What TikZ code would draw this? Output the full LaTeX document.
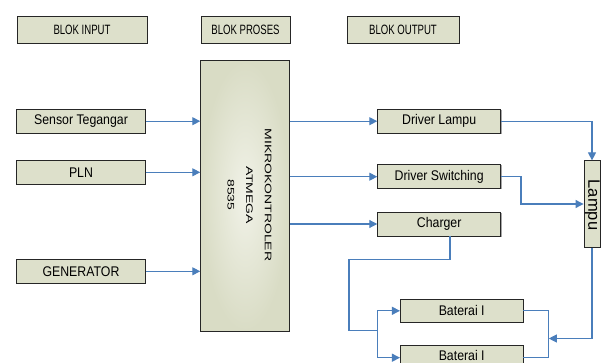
\documentclass[tikz,border=0pt]{standalone}
\usepackage{fontspec}
\setmainfont{Liberation Sans}
\newfontfamily\bodyfont[FakeStretch=0.88]{Liberation Sans}
\newfontfamily\hdrfont[FakeStretch=0.71]{Liberation Sans}
\newfontfamily\mcufont[FakeStretch=1.47]{Liberation Sans}
\usetikzlibrary{arrows.meta,shadows}
\definecolor{boxfill}{HTML}{DDE0CB}
\definecolor{mcuin}{HTML}{F1F2E8}
\definecolor{mcuout}{HTML}{D9DCC5}
\definecolor{linkblue}{HTML}{4A7EBB}
\begin{document}
\begin{tikzpicture}[x=1pt,y=-1pt,
  boxbase/.style={draw=black!85, line width=0.9pt, inner sep=0pt,
    drop shadow={shadow xshift=0.8pt, shadow yshift=-0.8pt, opacity=0.35, fill=black}},
  blk/.style={boxbase, fill=boxfill, font=\bodyfont\fontsize{14}{16}\selectfont},
  hdr/.style={boxbase, fill=boxfill, font=\hdrfont\fontsize{13.5}{16}\selectfont},
  mcubox/.style={boxbase, inner color=mcuin, outer color=mcuout},
  link/.style={draw=linkblue, line width=1.1pt},
  linkarrow/.style={link, -{Triangle[length=8pt,width=8pt]}}
]
\clip (0,0) rectangle (602,363);
\fill[white] (0,0) rectangle (602,363);

% header blocks
\node[hdr, minimum width=130pt, minimum height=27pt] (hin) at (82,29.5) {BLOK INPUT};
\node[hdr, minimum width=89pt, minimum height=27pt] (hpr) at (245.5,29.5) {BLOK PROSES};
\node[hdr, minimum width=112pt, minimum height=27pt] (hout) at (403,29.5) {BLOK OUTPUT};

% microcontroller
\node[mcubox, minimum width=88.6pt, minimum height=270.3pt] (mcu) at (245,195.9) {};
\node[rotate=-90, align=center, inner sep=0pt,
  font=\mcufont\fontsize{9.5}{18.6}\selectfont] (mcutxt) at (249.5,195) {MIKROKONTROLER\\ATMEGA\\8535};

% inputs
\node[blk, minimum width=128.3pt, minimum height=24pt] (sens) at (81,121.2) {Sensor Tegangar};
\node[blk, minimum width=128.3pt, minimum height=24pt] (pln) at (81,172.3) {PLN};
\node[blk, minimum width=128.3pt, minimum height=24pt] (gen) at (81,271.3) {GENERATOR};

% outputs
\node[blk, minimum width=123pt, minimum height=24pt] (dl) at (439.2,121.2) {Driver Lampu};
\node[blk, minimum width=123pt, minimum height=24pt] (ds) at (439.2,176.7) {Driver Switching};
\node[blk, minimum width=123pt, minimum height=24pt] (ch) at (439.2,224) {Charger};
\node[blk, minimum width=16pt, minimum height=86.3pt] (lampu) at (592,204) {};
\node[rotate=-90, inner sep=0pt, font=\fontsize{16.5}{18}\selectfont] (lamputxt) at (592.3,205) {Lampu};
\node[blk, minimum width=122.6pt, minimum height=23.7pt] (bat1) at (461.7,310.8) {Baterai I};
\node[blk, minimum width=122.6pt, minimum height=23.7pt] (bat2) at (461.7,357.7) {};
\node[inner sep=0pt, font=\bodyfont\fontsize{14}{16}\selectfont] (bat2txt) at (461.7,355.6) {Baterai I};

% inputs to mcu
\draw[linkarrow] (sens.east) -- (sens.east -| mcu.west);
\draw[linkarrow] (pln.east) -- (pln.east -| mcu.west);
\draw[linkarrow] (gen.east) -- (gen.east -| mcu.west);

% mcu to outputs
\draw[linkarrow] (dl.west -| mcu.east) -- (dl.west);
\draw[linkarrow] (ds.west -| mcu.east) -- (ds.west);
\draw[linkarrow] (ch.west -| mcu.east) -- (ch.west);

% drivers to lamp
\draw[linkarrow] (dl.east) -| (lampu.north);
\coordinate (dsk) at (521,176.7);
\draw[linkarrow] (ds.east) -- (dsk) |- (lampu.west);

% charger to batteries
\coordinate (cbot) at (450,236);
\coordinate (ct1) at (450,259.3);
\coordinate (ct2) at (349,259.3);
\coordinate (ct3) at (349,330.7);
\coordinate (split) at (377.7,330.7);
\draw[link] (cbot) -- (ct1) -- (ct2) -- (ct3) -- (split);
\draw[linkarrow] (split) |- (bat1.west);
\draw[linkarrow] (split) |- (bat2.west);

% batteries joined, lamp feed
\coordinate (rj) at (548.3,334);
\draw[link] (bat1.east) -| (rj) |- (bat2.east);
\coordinate (rin) at (548.8,338.5);
\draw[linkarrow] (lampu.south) |- (rin);
\end{tikzpicture}
\end{document}
